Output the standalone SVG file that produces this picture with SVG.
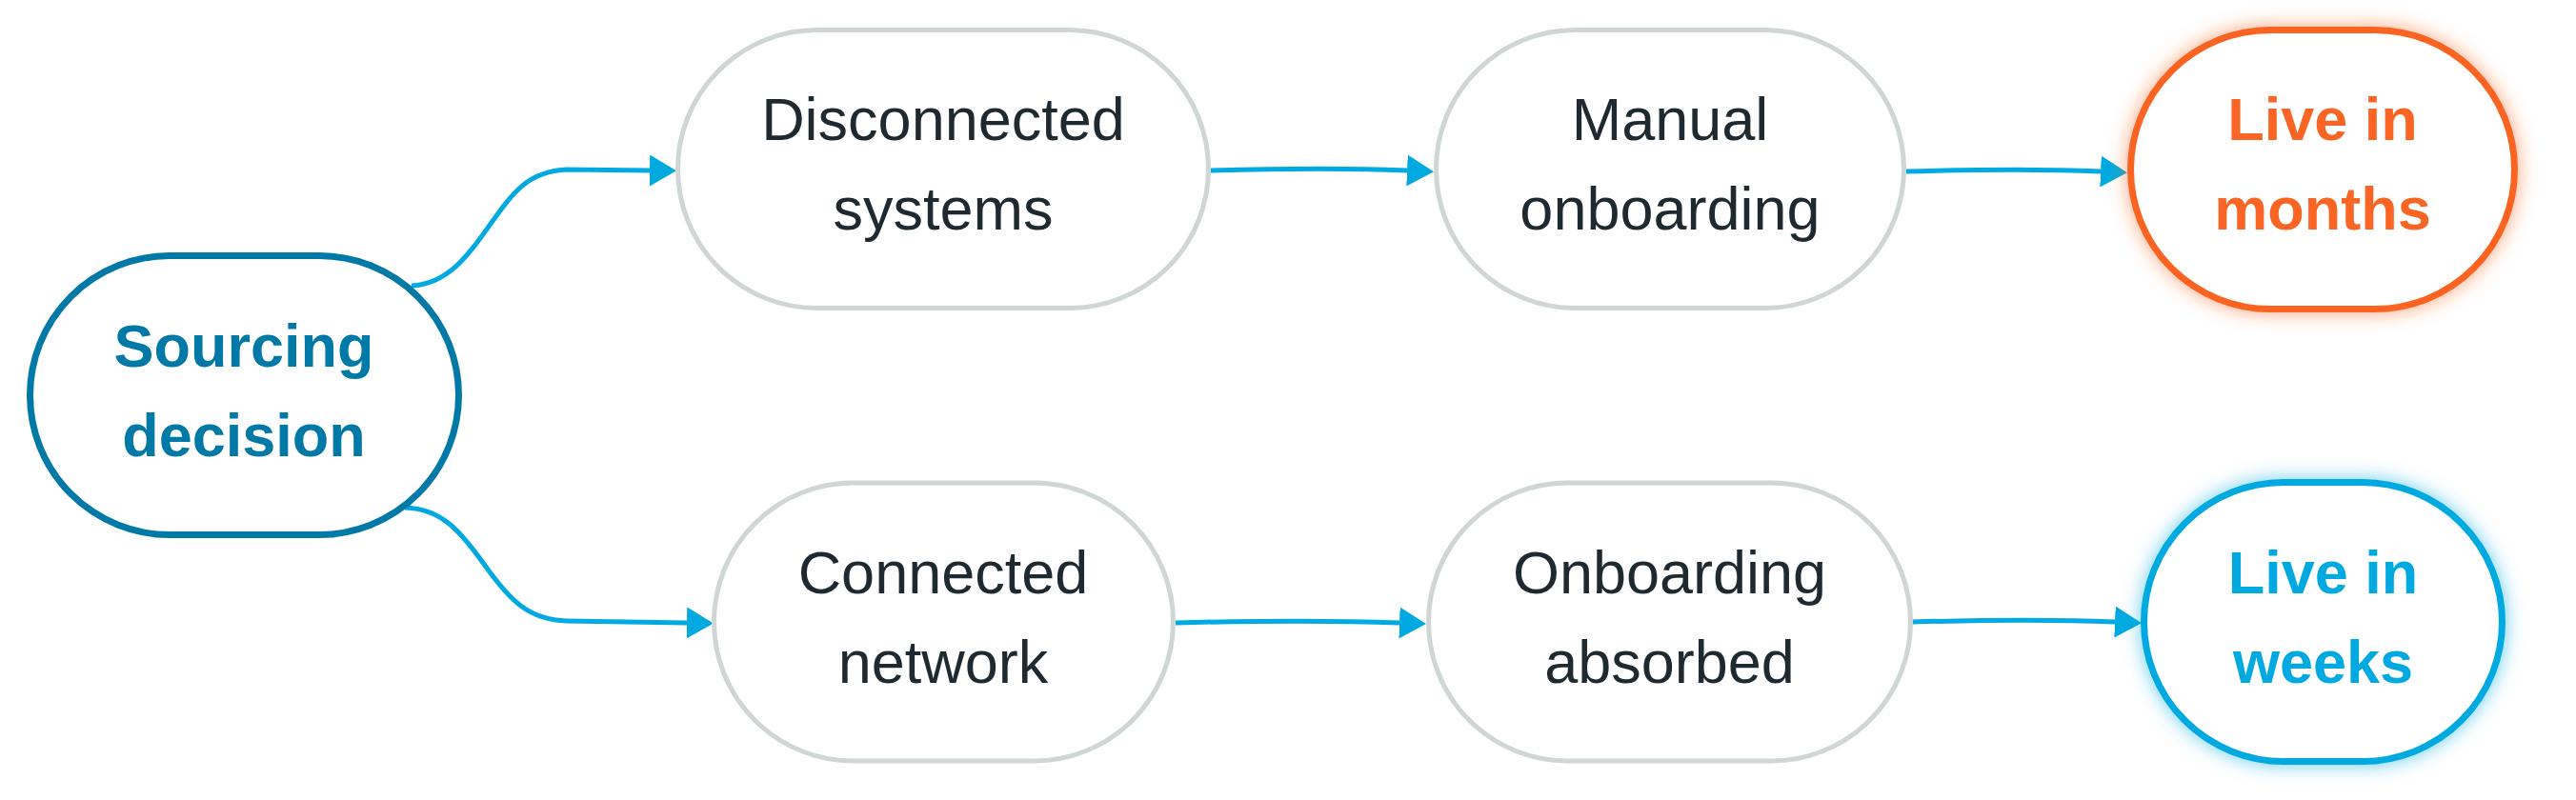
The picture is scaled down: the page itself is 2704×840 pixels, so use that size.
<svg xmlns="http://www.w3.org/2000/svg" width="2704" height="840" viewBox="0 0 2704 840">
<style>
.node{fill:#ffffff;}
.gray{stroke:#D0D5D5;stroke-width:5;}
.src{stroke:#0079A6;stroke-width:7;}
.orange{stroke:#FA6424;stroke-width:7;}
.blue{stroke:#00AAE1;stroke-width:7;}
.lbl{font-family:"Liberation Sans",Arial,sans-serif;font-size:63px;text-anchor:middle;fill:#1F2A30;}
.bold{font-weight:bold;}
.edge{fill:none;stroke:#00AAE1;stroke-width:5;}
</style>
<defs>
<marker id="arr" markerUnits="userSpaceOnUse" viewBox="0 0 28 33" refX="0" refY="16.5" markerWidth="28" markerHeight="33" orient="auto">
<path d="M0,0 L28,16.5 L0,33 Z" fill="#00AAE1"/>
</marker>
<filter id="glowO" x="-25%" y="-25%" width="150%" height="150%">
<feDropShadow dx="0" dy="0" stdDeviation="10" flood-color="#FA6424" flood-opacity="0.6"/>
</filter>
<filter id="glowB" x="-25%" y="-25%" width="150%" height="150%">
<feDropShadow dx="0" dy="0" stdDeviation="10" flood-color="#00AAE1" flood-opacity="0.6"/>
</filter>
</defs>
<rect width="2704" height="840" fill="#ffffff"/>
<g id="connectors">
<path class="edge" d="M432,300 C470,298 490,270 515,235 C540,200 555,180 595,178 L682,179" marker-end="url(#arr)"/>
<path class="edge" d="M425,533 C465,534 485,560 510,595 C535,630 555,651 595,652 L721,654" marker-end="url(#arr)"/>
<path class="edge" d="M1271,179 C1340,177 1410,176 1477,179" marker-end="url(#arr)"/>
<path class="edge" d="M2001,180 C2070,178 2140,177 2205,180" marker-end="url(#arr)"/>
<path class="edge" d="M1234,654 C1310,652 1390,651 1469,654" marker-end="url(#arr)"/>
<path class="edge" d="M2008,653 C2080,651 2150,650 2220,653" marker-end="url(#arr)"/>
</g>
<g id="node-sourcing">
<rect class="node src" x="31.5" y="268.5" width="450" height="293" rx="146.5"/>
<text class="lbl bold" x="256" y="385" style="fill:#0079A6">Sourcing</text>
<text class="lbl bold" x="256" y="479" style="fill:#0079A6">decision</text>
</g>
<g id="node-disconnected">
<rect class="node gray" x="711.5" y="31.5" width="557" height="292" rx="146"/>
<text class="lbl" x="990" y="147">Disconnected</text>
<text class="lbl" x="990" y="241">systems</text>
</g>
<g id="node-manual">
<rect class="node gray" x="1507.5" y="31.5" width="491" height="292" rx="146"/>
<text class="lbl" x="1753" y="147">Manual</text>
<text class="lbl" x="1753" y="241">onboarding</text>
</g>
<g id="node-months">
<rect class="node orange" x="2236.5" y="31.5" width="403" height="293" rx="146.5" filter="url(#glowO)"/>
<text class="lbl bold" x="2438" y="147" style="fill:#FA6424">Live in</text>
<text class="lbl bold" x="2438" y="241" style="fill:#FA6424">months</text>
</g>
<g id="node-connected">
<rect class="node gray" x="749.5" y="507" width="482" height="292" rx="146"/>
<text class="lbl" x="990" y="623">Connected</text>
<text class="lbl" x="990" y="717">network</text>
</g>
<g id="node-absorbed">
<rect class="node gray" x="1499.5" y="507" width="506" height="292" rx="146"/>
<text class="lbl" x="1752.5" y="623">Onboarding</text>
<text class="lbl" x="1752.5" y="717">absorbed</text>
</g>
<g id="node-weeks">
<rect class="node blue" x="2250.5" y="506.5" width="376" height="293" rx="146.5" filter="url(#glowB)"/>
<text class="lbl bold" x="2438.5" y="623" style="fill:#00AAE1">Live in</text>
<text class="lbl bold" x="2438.5" y="717" style="fill:#00AAE1">weeks</text>
</g>
</svg>
